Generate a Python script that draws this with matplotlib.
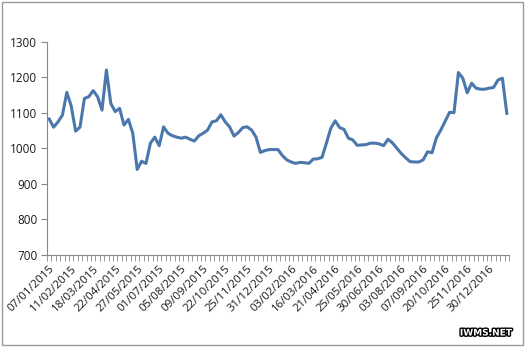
import matplotlib
matplotlib.use("Agg")
import matplotlib.pyplot as plt
from matplotlib.patches import Rectangle
import matplotlib.patheffects as pe

# weekly price series
values = [
    1083, 1060, 1075, 1094, 1158, 1120, 1049, 1060, 1141, 1146,
    1163, 1146, 1108, 1221, 1127, 1104, 1113, 1066, 1082, 1043,
    941, 964, 958, 1015, 1032, 1008, 1061, 1043, 1036, 1032,
    1029, 1032, 1026, 1021, 1036, 1043, 1052, 1075, 1078, 1095,
    1075, 1061, 1035, 1045, 1059, 1061, 1052, 1032, 989, 994,
    997, 997, 997, 980, 968, 962, 958, 961, 960, 958,
    970, 971, 975, 1015, 1057, 1078, 1059, 1054, 1029, 1024,
    1009, 1010, 1011, 1015, 1015, 1013, 1008, 1026, 1016, 1001,
    986, 974, 963, 962, 962, 968, 991, 988, 1030, 1052,
    1077, 1102, 1101, 1214, 1198, 1157, 1184, 1170, 1167, 1167,
    1170, 1172, 1193, 1198, 1099,
]

tick_labels = [
    "07/01/2015", "11/02/2015", "18/03/2015", "22/04/2015", "27/05/2015",
    "01/07/2015", "05/08/2015", "09/09/2015", "22/10/2015", "25/11/2015",
    "31/12/2015", "03/02/2016", "16/03/2016", "21/04/2016", "25/05/2016",
    "30/06/2016", "03/08/2016", "07/09/2016", "20/10/2016", "2511/2016",
    "30/12/2016",
]
label_step = 5
y_ticks = [700, 800, 900, 1000, 1100, 1200, 1300]

plt.rcParams["font.family"] = ["Open Sans", "DejaVu Sans"]

fig = plt.figure(figsize=(5.26, 3.47), dpi=100)
fig.patch.set_facecolor("white")

# outer chart border
fig.add_artist(Rectangle((0.004, 0.006), 0.990, 0.988, transform=fig.transFigure,
                         fill=False, edgecolor="#9a9a9a", linewidth=1.0))

ax = fig.add_axes([47 / 526, 1 - 255 / 347, 462 / 526, 213 / 347])

x = list(range(len(values)))
ax.plot(x, values, color="#4A78AC", linewidth=2.2, solid_joinstyle="round")

ax.set_xlim(-0.5, len(values) - 0.5)
ax.set_ylim(700, 1300)

# y axis
ax.set_yticks(y_ticks)
ax.set_yticklabels([str(v) for v in y_ticks], fontsize=8.5, color="#1a1a1a")
ax.tick_params(axis="y", direction="out", length=4, width=0.8, color="#888888", pad=3)

# x axis: tick marks at category boundaries, labels at every 5th category
ax.set_xticks([i - 0.5 for i in range(len(values) + 1)], minor=True)
ax.set_xticks(list(range(0, len(tick_labels) * label_step, label_step)))
ax.set_xticklabels(tick_labels, rotation=45, ha="right", va="top",
                   rotation_mode="anchor", fontsize=8.2, color="#1a1a1a")
ax.tick_params(axis="x", which="major", length=0, pad=6)
ax.tick_params(axis="x", which="minor", direction="out", length=4, width=0.7, color="#999999")

for side in ("top", "right"):
    ax.spines[side].set_visible(False)
for side in ("left", "bottom"):
    ax.spines[side].set_color("#888888")
    ax.spines[side].set_linewidth(0.8)

# watermark
fig.text(512 / 526, 1 - 333 / 347, "IWMS.NET", ha="right", va="center",
         fontsize=6.5, fontweight="bold", color="white", family="DejaVu Sans",
         path_effects=[pe.withStroke(linewidth=2, foreground="black")])

fig.savefig("out.png", dpi=100, facecolor="white")
